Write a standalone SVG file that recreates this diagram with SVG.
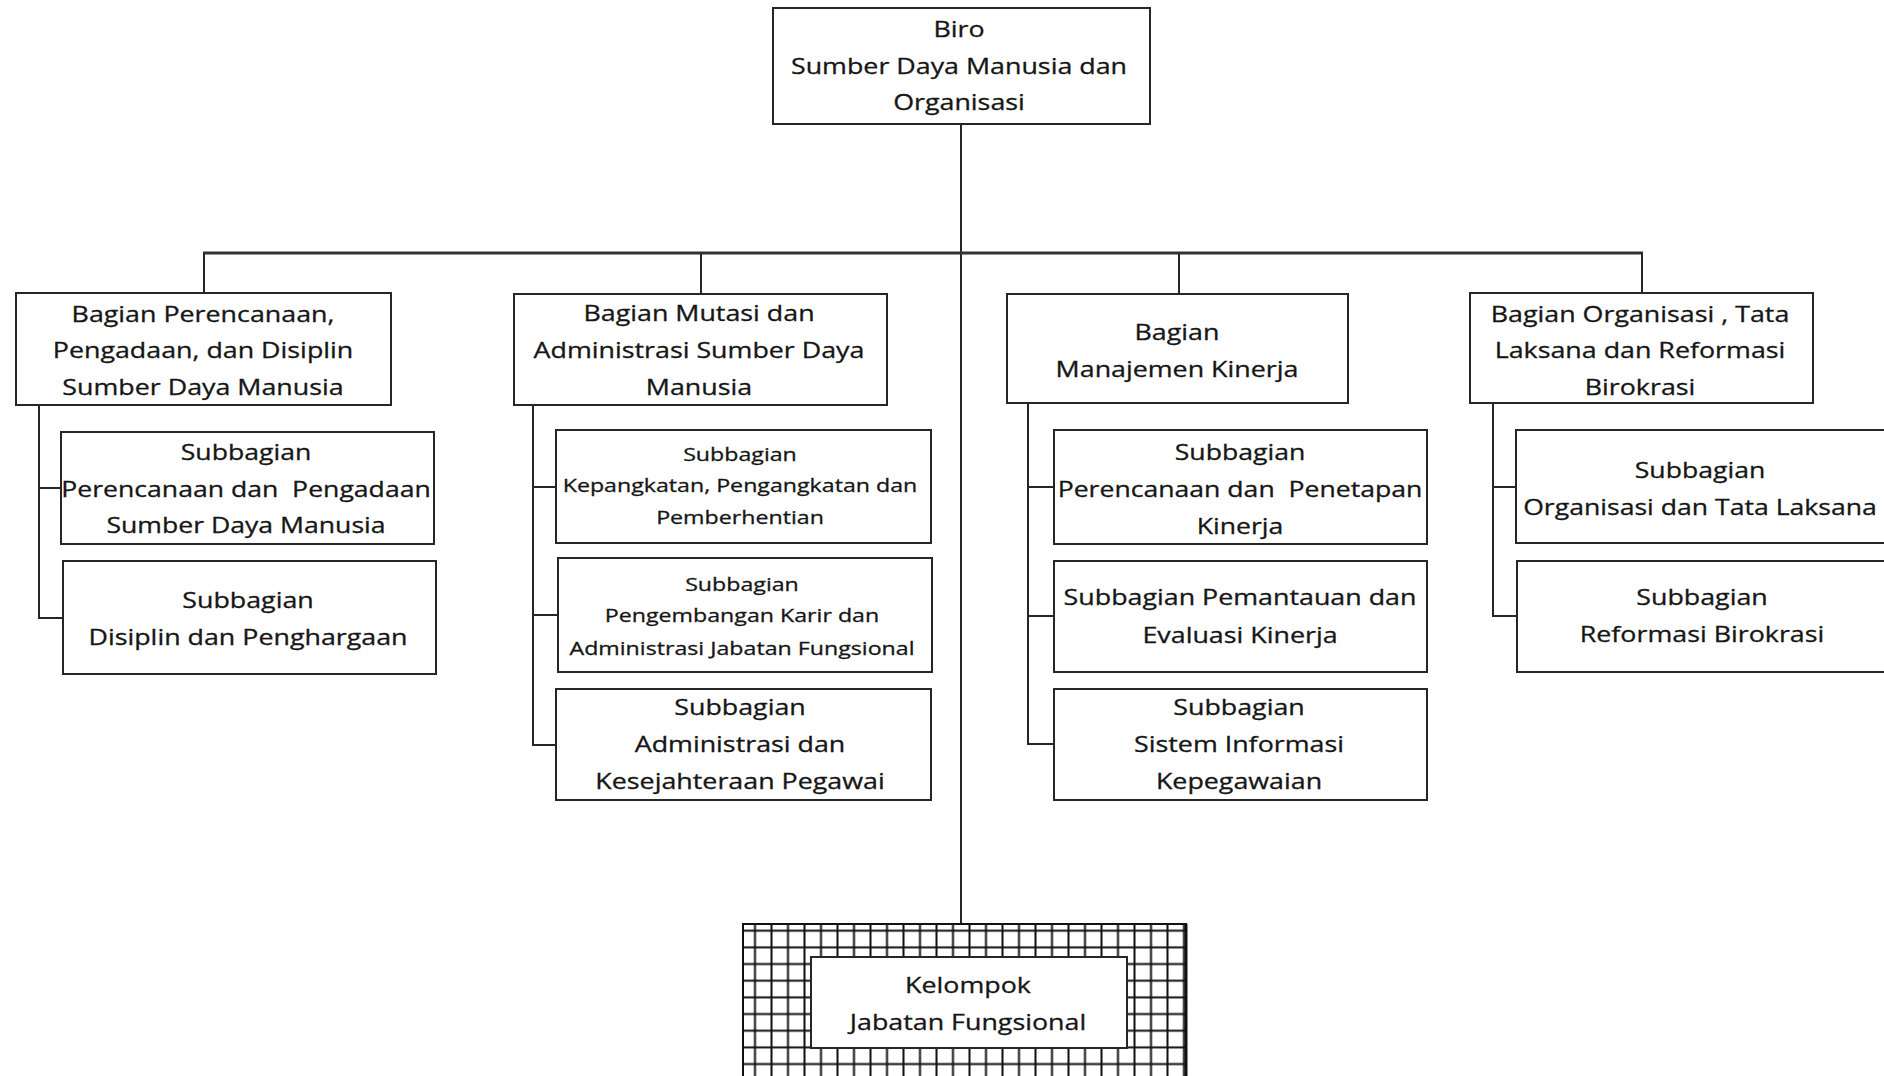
<svg xmlns="http://www.w3.org/2000/svg" width="1884" height="1076" viewBox="0 0 1884 1076">
<style>
.box{fill:#fff;stroke:#262626;stroke-width:2}
.ln{fill:none;stroke:#262626;stroke-width:2}
.bus{fill:none;stroke:#333;stroke-width:3}
.t{font-family:"Open Sans","Noto Sans",sans-serif;font-size:22px;fill:#161616;stroke:#161616;stroke-width:0.3;text-anchor:middle;white-space:pre}
.s{font-size:19px}
</style>
<defs>
<pattern id="grid" patternUnits="userSpaceOnUse" x="746.75" y="922.37" width="16.5" height="16.67">
<rect width="16.5" height="16.67" fill="#fff"/>
<line x1="8.25" y1="0" x2="8.25" y2="16.67" stroke="#111" stroke-width="2"/>
<line x1="0" y1="8.33" x2="16.5" y2="8.33" stroke="#111" stroke-width="2"/>
</pattern>
</defs>
<rect width="1884" height="1076" fill="#fff"/>
<g id="connectors">
<line class="ln" x1="961" y1="124" x2="961" y2="924"/>
<line class="bus" x1="203" y1="253" x2="1643" y2="253"/>
<line class="ln" x1="204" y1="253" x2="204" y2="293"/>
<line class="ln" x1="701" y1="253" x2="701" y2="294"/>
<line class="ln" x1="1179" y1="253" x2="1179" y2="294"/>
<line class="ln" x1="1642" y1="253" x2="1642" y2="293"/>
<polyline class="ln" points="39,405 39,618 63,618"/>
<line class="ln" x1="39" y1="488" x2="61" y2="488" stroke="#555"/>
<polyline class="ln" points="533,405 533,745 556,745"/>
<line class="ln" x1="533" y1="487" x2="556" y2="487"/>
<line class="ln" x1="533" y1="615" x2="558" y2="615"/>
<polyline class="ln" points="1028,403 1028,744 1054,744"/>
<line class="ln" x1="1028" y1="487" x2="1054" y2="487"/>
<line class="ln" x1="1028" y1="616" x2="1054" y2="616"/>
<polyline class="ln" points="1493,403 1493,616 1517,616"/>
<line class="ln" x1="1493" y1="487" x2="1516" y2="487"/>
</g>
<g id="biro">
<rect class="box" x="773" y="8" width="377" height="116"/>
<text class="t" transform="translate(959 0) scale(1.22 1)"><tspan x="0" y="37">Biro</tspan><tspan x="0" y="74">Sumber Daya Manusia dan</tspan><tspan x="0" y="110">Organisasi</tspan></text>
</g>
<g id="bagian-perencanaan">
<rect class="box" x="16" y="293" width="375" height="112"/>
<text class="t" transform="translate(203 0) scale(1.22 1)"><tspan x="0" y="322">Bagian Perencanaan,</tspan><tspan x="0" y="358">Pengadaan, dan Disiplin</tspan><tspan x="0" y="395">Sumber Daya Manusia</tspan></text>
</g>
<g id="sub-perencanaan-pengadaan">
<rect class="box" x="61" y="432" width="373" height="112"/>
<text class="t" transform="translate(246 0) scale(1.21 1)"><tspan x="0" y="460">Subbagian</tspan><tspan x="0" y="497">Perencanaan dan  Pengadaan</tspan><tspan x="0" y="533">Sumber Daya Manusia</tspan></text>
</g>
<g id="sub-disiplin">
<rect class="box" x="63" y="561" width="373" height="113"/>
<text class="t" transform="translate(248 0) scale(1.22 1)"><tspan x="0" y="608">Subbagian</tspan><tspan x="0" y="645">Disiplin dan Penghargaan</tspan></text>
</g>
<g id="bagian-mutasi">
<rect class="box" x="514" y="294" width="373" height="111"/>
<text class="t" transform="translate(699 0) scale(1.22 1)"><tspan x="0" y="321">Bagian Mutasi dan</tspan><tspan x="0" y="358">Administrasi Sumber Daya</tspan><tspan x="0" y="395">Manusia</tspan></text>
</g>
<g id="sub-kepangkatan">
<rect class="box" x="556" y="430" width="375" height="113"/>
<text class="t s" transform="translate(740 0) scale(1.22 1)"><tspan x="0" y="461">Subbagian</tspan><tspan x="0" y="492">Kepangkatan, Pengangkatan dan</tspan><tspan x="0" y="524">Pemberhentian</tspan></text>
</g>
<g id="sub-pengembangan-karir">
<rect class="box" x="558" y="558" width="374" height="114"/>
<text class="t s" transform="translate(742 0) scale(1.22 1)"><tspan x="0" y="591">Subbagian</tspan><tspan x="0" y="622">Pengembangan Karir dan</tspan><tspan x="0" y="655">Administrasi Jabatan Fungsional</tspan></text>
</g>
<g id="sub-administrasi-kesejahteraan">
<rect class="box" x="556" y="689" width="375" height="111"/>
<text class="t" transform="translate(740 0) scale(1.22 1)"><tspan x="0" y="715">Subbagian</tspan><tspan x="0" y="752">Administrasi dan</tspan><tspan x="0" y="789">Kesejahteraan Pegawai</tspan></text>
</g>
<g id="bagian-manajemen-kinerja">
<rect class="box" x="1007" y="294" width="341" height="109"/>
<text class="t" transform="translate(1177 0) scale(1.22 1)"><tspan x="0" y="340">Bagian</tspan><tspan x="0" y="377">Manajemen Kinerja</tspan></text>
</g>
<g id="sub-perencanaan-penetapan">
<rect class="box" x="1054" y="430" width="373" height="114"/>
<text class="t" transform="translate(1240 0) scale(1.21 1)"><tspan x="0" y="460">Subbagian</tspan><tspan x="0" y="497">Perencanaan dan  Penetapan</tspan><tspan x="0" y="534">Kinerja</tspan></text>
</g>
<g id="sub-pemantauan">
<rect class="box" x="1054" y="561" width="373" height="111"/>
<text class="t" transform="translate(1240 0) scale(1.22 1)"><tspan x="0" y="605">Subbagian Pemantauan dan</tspan><tspan x="0" y="643">Evaluasi Kinerja</tspan></text>
</g>
<g id="sub-sistem-informasi">
<rect class="box" x="1054" y="689" width="373" height="111"/>
<text class="t" transform="translate(1239 0) scale(1.22 1)"><tspan x="0" y="715">Subbagian</tspan><tspan x="0" y="752">Sistem Informasi</tspan><tspan x="0" y="789">Kepegawaian</tspan></text>
</g>
<g id="bagian-organisasi">
<rect class="box" x="1470" y="293" width="343" height="110"/>
<text class="t" transform="translate(1640 0) scale(1.22 1)"><tspan x="0" y="322">Bagian Organisasi , Tata</tspan><tspan x="0" y="358">Laksana dan Reformasi</tspan><tspan x="0" y="395">Birokrasi</tspan></text>
</g>
<g id="sub-organisasi-tata-laksana">
<rect class="box" x="1516" y="430" width="372" height="113"/>
<text class="t" transform="translate(1700 0) scale(1.21 1)"><tspan x="0" y="478">Subbagian</tspan><tspan x="0" y="515">Organisasi dan Tata Laksana</tspan></text>
</g>
<g id="sub-reformasi-birokrasi">
<rect class="box" x="1517" y="561" width="371" height="111"/>
<text class="t" transform="translate(1702 0) scale(1.22 1)"><tspan x="0" y="605">Subbagian</tspan><tspan x="0" y="642">Reformasi Birokrasi</tspan></text>
</g>
<g id="kelompok-jabatan-fungsional">
<rect x="743" y="924" width="443" height="160" fill="url(#grid)" stroke="#111" stroke-width="2"/>
<line x1="1186" y1="924" x2="1186" y2="1076" stroke="#111" stroke-width="3"/>
<rect class="box" x="811" y="957" width="316" height="91"/>
<text class="t" transform="translate(968 0) scale(1.22 1)"><tspan x="0" y="993">Kelompok</tspan><tspan x="0" y="1030">Jabatan Fungsional</tspan></text>
</g>
</svg>
